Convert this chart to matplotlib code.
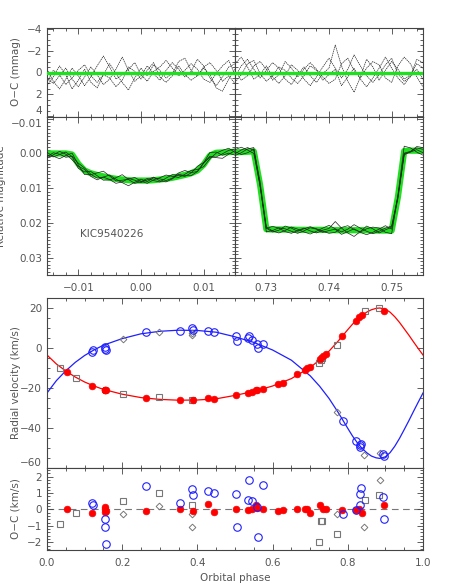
import numpy as np
import matplotlib
matplotlib.use('Agg')
import matplotlib.pyplot as plt
from matplotlib.ticker import MultipleLocator

# ---------------- light-curve data (phase grids, model, residual traces in mmag) -------------
lc_left_phase = [-0.015, -0.014, -0.013, -0.012, -0.011, -0.010, -0.009, -0.008, -0.007, -0.006,
                 -0.005, -0.004, -0.003, -0.002, -0.001, 0.000, 0.001, 0.002, 0.003, 0.004,
                 0.005, 0.006, 0.007, 0.008, 0.009, 0.010, 0.011, 0.012, 0.013, 0.014, 0.015]
lc_left_model = [0.0000, 0.0000, 0.0000, 0.0000, 0.0003, 0.0030, 0.0049, 0.0057, 0.0062, 0.0066,
                 0.0070, 0.0073, 0.0075, 0.0077, 0.0078, 0.0078, 0.0078, 0.0077, 0.0075, 0.0073,
                 0.0070, 0.0066, 0.0062, 0.0057, 0.0049, 0.0032, 0.0006, -0.0002, -0.0003, -0.0004, -0.0005]
lc_right_phase = [0.725, 0.726, 0.727, 0.728, 0.729, 0.730, 0.731, 0.732, 0.733, 0.734,
                  0.735, 0.736, 0.737, 0.738, 0.739, 0.740, 0.741, 0.742, 0.743, 0.744,
                  0.745, 0.746, 0.747, 0.748, 0.749, 0.750, 0.751, 0.752, 0.753, 0.754, 0.755]
lc_right_model = [-0.0003, -0.0004, -0.0005, -0.0006, 0.0090, 0.0218, 0.0219, 0.0219, 0.0219, 0.0219,
                  0.0220, 0.0220, 0.0220, 0.0220, 0.0220, 0.0220, 0.0221, 0.0221, 0.0221, 0.0221,
                  0.0221, 0.0221, 0.0222, 0.0222, 0.0222, 0.0222, 0.0125, -0.0007, -0.0008, -0.0008, -0.0008]

oc_left_traces = [
    [0.5, 1.0, 0.3, -0.4, 0.6, 1.3, 0.4, -0.5, 0.2, 1.1, 0.6, -0.3, -1.4, -0.2, 0.8, 0.3, -0.6, 0.1, 0.7, -0.2, -0.9, -0.3, 0.4, -0.1, -1.2, -0.6, 0.5, 1.2, 0.4, -0.5, -0.8],
    [1.2, 0.4, -0.6, 0.2, 1.5, 0.7, -0.3, 0.9, 1.4, 0.2, -0.8, 0.1, 0.9, 1.6, 0.5, -0.4, 0.3, -0.7, -0.2, 0.5, 0.1, -1.0, -1.3, -0.2, 0.3, -0.4, 0.2, 1.4, 1.7, 0.6, -0.3],
    [-0.3, 0.8, 1.5, 0.6, -0.4, 0.3, 1.2, 0.4, -0.6, -1.5, -0.5, 0.6, 0.2, -0.3, -0.9, 0.2, 0.8, -0.1, -0.5, -1.1, -0.4, 0.3, -0.2, -0.8, -0.3, 0.6, 0.9, 0.1, -0.6, -1.1, 0.2],
    [0.9, -0.2, 0.2, 1.1, 0.5, -0.2, -0.7, 0.3, 0.9, 0.2, 0.5, 1.3, 0.7, -0.5, -0.1, 0.6, -0.2, -0.9, 0.4, 0.9, 0.3, -0.6, 0.2, 0.7, 0.3, -0.5, -0.9, -0.2, 0.8, 0.3, 1.0],
]
oc_right_traces = [
    [0.4, -0.6, -1.2, -0.3, 0.5, -0.2, -0.9, -0.4, 0.6, 1.1, 0.2, -0.5, 0.3, 0.9, 0.1, -0.4, -2.5, -0.6, 0.8, 1.8, 0.4, -1.2, -0.5, 0.7, -0.2, -1.0, -0.3, 0.6, 0.2, -0.8, -0.4],
    [-0.8, -1.4, -0.5, 0.6, 0.2, -0.6, 0.4, 1.0, 0.3, -0.7, -0.2, 0.6, 1.2, 0.4, -0.5, -1.3, -0.4, 0.5, -0.3, -1.6, -0.6, 0.3, 0.9, 0.2, -0.7, -1.3, 0.1, 0.8, 0.4, -0.3, 0.6],
    [0.9, 0.2, -0.8, -1.1, 0.1, 0.8, 0.3, -0.5, -0.2, 0.5, 1.0, 0.3, -0.6, -0.2, 0.7, 0.2, -0.3, 1.2, 0.4, -0.4, 0.6, 1.3, 0.5, -0.4, -1.4, -0.4, 0.5, 1.1, 0.3, -1.2, -0.9],
    [-0.2, 0.7, 0.3, -0.6, -1.0, -0.3, 0.7, 0.2, -1.0, -0.4, 0.4, -0.3, -0.9, -0.3, 0.4, 1.0, 0.6, -0.8, -1.3, -0.2, 0.5, -0.4, -1.0, -0.7, 0.5, 0.9, -0.6, -1.4, -0.8, 0.4, 1.3],
]

# ---------------- radial-velocity model curves ----------------
model_phase = [0.000, 0.025, 0.050, 0.075, 0.100, 0.125, 0.150, 0.200, 0.250, 0.300,
               0.350, 0.400, 0.450, 0.500, 0.550, 0.600, 0.650, 0.700, 0.725, 0.750,
               0.775, 0.7875, 0.800, 0.8125, 0.825, 0.8375, 0.850, 0.8625, 0.875, 0.885,
               0.900, 0.9125, 0.925, 0.9375, 0.950, 0.9625, 0.975, 0.9875, 1.000]
model_rv1 = [-3.5, -8.0, -11.5, -14.5, -17.0, -19.0, -20.7, -23.1, -24.8, -25.7,
             -26.1, -26.0, -25.4, -23.7, -21.7, -19.0, -15.3, -9.7, -6.0, -1.6,
             3.6, 6.4, 9.2, 11.9, 14.3, 16.3, 17.9, 19.1, 19.8, 20.0,
             19.4, 17.9, 15.6, 12.8, 9.6, 6.4, 3.0, -0.3, -3.5]
model_rv2 = [-22.5, -16.3, -11.4, -7.2, -3.75, -0.97, 1.4, 4.7, 7.1, 8.35,
             8.9, 8.77, 7.9, 5.6, 2.8, -1.0, -6.1, -13.9, -19.1, -25.2,
             -32.4, -36.3, -40.2, -44.0, -47.3, -50.1, -52.3, -54.0, -54.9, -55.2,
             -54.4, -52.3, -49.1, -45.2, -40.8, -36.3, -31.6, -27.0, -22.5]

# primary (red filled)
p1_phase = [0.054, 0.121, 0.153, 0.154, 0.155, 0.156, 0.262, 0.354, 0.387, 0.427, 0.444, 0.503,
            0.535, 0.544, 0.557, 0.559, 0.575, 0.615, 0.627, 0.666, 0.685, 0.691, 0.699, 0.726,
            0.735, 0.742, 0.785, 0.821, 0.831, 0.837, 0.897]
p1_rv = [-11.8, -18.8, -20.8, -21.0, -21.2, -21.1, -25.2, -26.0, -26.0, -25.2, -25.6, -23.5,
         -22.3, -21.8, -21.0, -21.1, -20.5, -18.2, -17.4, -13.2, -11.0, -10.2, -9.6, -5.5,
         -4.0, -2.9, 6.2, 13.5, 15.7, 16.5, 18.7]
p1_oc = [0.0, -0.2, 0.16, 0.0, -0.15, -0.1, -0.08, 0.02, -0.08, 0.36, -0.15, 0.06,
         -0.04, 0.0, 0.26, 0.1, 0.02, -0.1, -0.04, 0.06, 0.06, 0.06, -0.24, 0.26,
         0.02, 0.0, -0.04, -0.04, 0.06, -0.24, 0.3]

# secondary (blue open)
p2_phase = [0.121, 0.122, 0.154, 0.155, 0.156, 0.262, 0.354, 0.386, 0.387, 0.427, 0.444, 0.503,
            0.504, 0.537, 0.535, 0.546, 0.559, 0.560, 0.575, 0.786, 0.821, 0.832, 0.833, 0.835,
            0.893, 0.895]
p2_rv = [-1.8, -1.2, 0.6, -0.4, -1.2, 8.2, 8.7, 9.9, 8.9, 8.7, 8.2, 6.0,
         3.7, 6.2, 5.0, 3.9, 1.8, -0.2, 2.2, -36.5, -46.5, -48.3, -49.3, -48.0,
         -53.0, -54.0]
p2_oc = [0.4, 0.3, -0.55, -1.09, -2.12, 1.41, 0.4, 1.27, 0.87, 1.13, 1.03, 0.97,
         -1.09, 1.78, 0.56, 0.52, 0.16, -1.7, 1.52, -0.28, -0.04, 0.97, 0.26, 1.33,
         0.76, -0.55]

# second data set, primary (grey squares)
s1_phase = [0.035, 0.077, 0.203, 0.299, 0.385, 0.724, 0.728, 0.732, 0.772, 0.846, 0.884]
s1_rv = [-9.8, -14.8, -23.0, -24.7, -26.0, -7.7, -6.0, -5.2, 1.5, 18.5, 20.2]
s1_oc = [-0.89, -0.2, 0.5, 1.0, 0.3, -2.0, -0.71, -0.71, -1.5, 0.56, 0.87]

# second data set, secondary (grey diamonds)
s2_phase = [0.203, 0.299, 0.385, 0.386, 0.772, 0.843, 0.886]
s2_rv = [4.3, 7.8, 7.3, 6.5, -32.2, -53.3, -52.4]
s2_oc = [-0.27, 0.2, -0.3, -1.09, -0.3, -1.09, 1.78]

# ---------------- styling ----------------
W, H = 469, 586
fig = plt.figure(figsize=(W / 100, H / 100), dpi=100)
TXT = '#555555'
SP = '#444444'
GREEN = '#1fe01f'
RED = '#ff0000'
BLUE = '#1f1fff'
GREY = '#777777'
FS = 7.5


def ax_px(x0, y0, x1, y1):
    return fig.add_axes([x0 / W, 1 - y1 / H, (x1 - x0) / W, (y1 - y0) / H])


def style(ax):
    for s in ax.spines.values():
        s.set_color(SP)
        s.set_linewidth(0.8)
    ax.tick_params(which='both', direction='in', top=True, right=True,
                   colors=SP, labelcolor=TXT, labelsize=FS, width=0.6)
    ax.tick_params(which='major', length=4.5)
    ax.tick_params(which='minor', length=2.2)


xl, xm, xr = 47, 235, 423
ax_ocL = ax_px(xl, 28, xm, 117)
ax_ocR = ax_px(xm, 28, xr, 117)
ax_lcL = ax_px(xl, 117, xm, 275)
ax_lcR = ax_px(xm, 117, xr, 275)
ax_rv = ax_px(xl, 298, xr, 468)
ax_roc = ax_px(xl, 468, xr, 550)

for ax, ph, traces in ((ax_ocL, lc_left_phase, oc_left_traces), (ax_ocR, lc_right_phase, oc_right_traces)):
    for tr in traces:
        ax.plot(ph, tr, color='#222222', lw=0.5, ls=(0, (2, 1)), zorder=2)
    ax.plot(ph, [0] * len(ph), color=GREEN, lw=2.4, zorder=3)
    ax.set_ylim(4.05, -4.05)
    ax.yaxis.set_major_locator(MultipleLocator(2))
    ax.yaxis.set_minor_locator(MultipleLocator(0.5))
    ax.tick_params(labelbottom=False)

for ax, ph, model, traces in ((ax_lcL, lc_left_phase, lc_left_model, oc_left_traces),
                              (ax_lcR, lc_right_phase, lc_right_model, oc_right_traces)):
    ax.plot(ph, model, color=GREEN, lw=4.5, solid_capstyle='butt', zorder=2)
    for tr in traces:
        ax.plot(ph, np.array(model) + np.array(tr) / 1000.0, color='#222222', lw=0.5, zorder=3)
    ax.set_ylim(0.035, -0.0105)
    ax.yaxis.set_major_locator(MultipleLocator(0.01))
    ax.yaxis.set_minor_locator(MultipleLocator(0.001))
    ax.xaxis.set_major_locator(MultipleLocator(0.01))
    ax.xaxis.set_minor_locator(MultipleLocator(0.002))

ax_ocL.set_xlim(-0.015, 0.015)
ax_lcL.set_xlim(-0.015, 0.015)
ax_ocR.set_xlim(0.725, 0.755)
ax_lcR.set_xlim(0.725, 0.755)
for ax in (ax_ocL, ax_ocR):
    ax.xaxis.set_major_locator(MultipleLocator(0.01))
    ax.xaxis.set_minor_locator(MultipleLocator(0.002))
ax_ocR.tick_params(labelleft=False)
ax_lcR.tick_params(labelleft=False)

ax_ocL.set_yticks([-4, -2, 0, 2, 4])
ax_ocL.set_yticklabels(['\u22124', '\u22122', '0', '2', '4'])
ax_lcL.set_yticks([-0.01, 0.0, 0.01, 0.02, 0.03])
ax_lcL.set_yticklabels(['\u22120.01', '0.00', '0.01', '0.02', '0.03'])
ax_lcL.set_xticks([-0.01, 0.0, 0.01])
ax_lcL.set_xticklabels(['\u22120.01', '0.00', '0.01'])
ax_lcR.set_xticks([0.73, 0.74, 0.75])
ax_lcR.set_xticklabels(['0.73', '0.74', '0.75'])
ax_lcL.text(-0.0098, 0.0231, 'KIC9540226', fontsize=FS, color=TXT, va='center', ha='left')

for ax in (ax_ocL, ax_ocR, ax_lcL, ax_lcR):
    style(ax)
    ax.tick_params(axis='x', pad=6)

# the "4" and "-0.01" labels share the panel boundary; nudge them apart
ax_ocL.get_yticklabels()[-1].set_va('bottom')
ax_lcL.get_yticklabels()[0].set_va('top')

# RV panel
ax_rv.plot(model_phase, model_rv1, color=RED, lw=0.9, zorder=2)
ax_rv.plot(model_phase, model_rv2, color=BLUE, lw=0.9, zorder=2)
ax_rv.plot(s1_phase, s1_rv, ls='none', marker='s', ms=5, mfc='none', mec=GREY, mew=0.8, zorder=3)
ax_rv.plot(s2_phase, s2_rv, ls='none', marker='D', ms=3.4, mfc='none', mec=GREY, mew=0.7, zorder=3)
ax_rv.plot(p1_phase, p1_rv, ls='none', marker='o', ms=4.8, mfc=RED, mec=RED, mew=0.5, zorder=4)
ax_rv.plot(p2_phase, p2_rv, ls='none', marker='o', ms=5.4, mfc='none', mec=BLUE, mew=0.8, zorder=5)
ax_rv.set_xlim(0, 1)
ax_rv.set_ylim(-60, 25)
ax_rv.xaxis.set_major_locator(MultipleLocator(0.2))
ax_rv.xaxis.set_minor_locator(MultipleLocator(0.05))
ax_rv.set_yticks([-60, -40, -20, 0, 20])
ax_rv.set_yticklabels(['\u221260', '\u221240', '\u221220', '0', '20'])
ax_rv.yaxis.set_minor_locator(MultipleLocator(5))
style(ax_rv)
ax_rv.tick_params(labelbottom=False)
ax_rv.get_yticklabels()[0].set_va('bottom')

# RV O-C panel
ax_roc.axhline(0, color=GREY, lw=0.8, ls=(0, (6, 4)), zorder=1)
ax_roc.plot(s1_phase, s1_oc, ls='none', marker='s', ms=5, mfc='none', mec=GREY, mew=0.8, zorder=3)
ax_roc.plot(s2_phase, s2_oc, ls='none', marker='D', ms=3.4, mfc='none', mec=GREY, mew=0.7, zorder=3)
ax_roc.plot(p1_phase, p1_oc, ls='none', marker='o', ms=4.8, mfc=RED, mec=RED, mew=0.5, zorder=4)
ax_roc.plot(p2_phase, p2_oc, ls='none', marker='o', ms=5.4, mfc='none', mec=BLUE, mew=0.8, zorder=5)
ax_roc.set_xlim(0, 1)
ax_roc.set_ylim(-2.47, 2.53)
ax_roc.set_xticks([0.0, 0.2, 0.4, 0.6, 0.8, 1.0])
ax_roc.set_xticklabels(['0.0', '0.2', '0.4', '0.6', '0.8', '1.0'])
ax_roc.xaxis.set_minor_locator(MultipleLocator(0.05))
ax_roc.set_yticks([-2, -1, 0, 1, 2])
ax_roc.set_yticklabels(['\u22122', '\u22121', '0', '1', '2'])
ax_roc.yaxis.set_minor_locator(MultipleLocator(0.2))
style(ax_roc)
ax_roc.tick_params(axis='x', pad=6)

# axis titles
fig.text(16 / W, 1 - 72 / H, 'O\u2212C (mmag)', rotation=90, ha='center', va='center', fontsize=FS, color=TXT)
fig.text(1 / W, 1 - 196 / H, 'Relative magnitude', rotation=90, ha='center', va='center', fontsize=FS, color=TXT)
fig.text(16 / W, 1 - 383 / H, 'Radial velocity (km/s)', rotation=90, ha='center', va='center', fontsize=FS, color=TXT)
fig.text(16 / W, 1 - 509 / H, 'O\u2212C (km/s)', rotation=90, ha='center', va='center', fontsize=FS, color=TXT)
fig.text(235 / W, 1 - 578 / H, 'Orbital phase', ha='center', va='center', fontsize=FS, color=TXT)

fig.savefig('out.png', dpi=100)
